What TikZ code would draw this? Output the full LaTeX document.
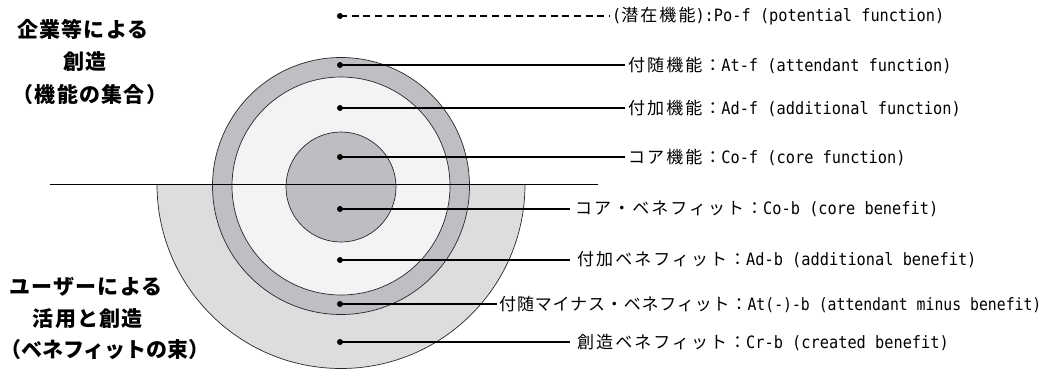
\documentclass[tikz,border=0pt]{standalone}
\usepackage{fontspec}
\setmainfont{Noto Sans CJK JP}
\newfontfamily\jp[LetterSpace=12]{Noto Sans CJK JP}
\newfontfamily\jpt[LetterSpace=5]{Noto Sans CJK JP}
\newfontfamily\jps[LetterSpace=6]{Noto Sans CJK JP}
\newfontfamily\jpss{Noto Sans CJK JP}
\newfontfamily\lat[FakeStretch=0.9]{DejaVu Sans Mono}
\newfontfamily\latt[FakeStretch=0.87]{DejaVu Sans Mono}
\newcommand\JA[1]{{\fontsize{17}{20}\jp #1}}
\newcommand\LA[1]{{\fontsize{17}{20}\lat #1}}
\definecolor{ringgray}{RGB}{190,191,194}
\definecolor{innerw}{RGB}{242,243,245}
\definecolor{coregray}{RGB}{189,190,193}
\definecolor{semigray}{RGB}{220,221,223}
\definecolor{edgecol}{RGB}{40,40,40}
\begin{document}
\begin{tikzpicture}[x=1pt,y=1pt,
  edge/.style={draw=edgecol, line width=0.7pt},
  conn/.style={draw=black, line width=1.5pt},
  dotn/.style={circle, fill=black, inner sep=0pt, minimum size=6pt},
  lbl/.style={anchor=west, inner sep=0pt},
  side/.style={inner sep=0pt, font=\fontsize{21}{24}\jps\bfseries},
  sidetight/.style={inner sep=0pt, font=\fontsize{21}{24}\jpss\bfseries}]
\useasboundingbox (0,0) rectangle (1055,-370);
% created benefit half disc
\fill[semigray] (157,-184.5) arc[start angle=180,end angle=360,radius=184] -- cycle;
\draw[edge] (157,-184.5) arc[start angle=180,end angle=360,radius=184];
% concentric circles
\filldraw[fill=ringgray, edge] (341,-186) circle[radius=128.5];
\filldraw[fill=innerw, edge] (341,-186) circle[radius=109];
\filldraw[fill=coregray, edge] (341,-187) circle[radius=55];
% divider
\draw[draw=black, line width=0.9pt] (50,-184.5) -- (598,-184.5);
% dots
\node[dotn] (d1) at (340,-16) {};
\node[dotn] (d2) at (340,-65) {};
\node[dotn] (d3) at (340,-108) {};
\node[dotn] (d4) at (340,-157) {};
\node[dotn] (d5) at (340,-209) {};
\node[dotn] (d6) at (340,-260) {};
\node[dotn] (d7) at (340,-304) {};
\node[dotn] (d8) at (340,-342) {};
% labels
\node[lbl] (t1) at (612,-16) {\LA{(}\JA{潜在機能}\LA{):Po-f (potential function)}};
\node[lbl] (t2) at (628,-65) {\JA{付随機能：}\LA{At-f (attendant function)}};
\node[lbl] (t3) at (628,-108) {\JA{付加機能：}\LA{Ad-f (additional function)}};
\node[lbl] (t4) at (628,-157) {\JA{コア機能：}\LA{Co-f (core function)}};
\node[lbl] (t5) at (575,-209) {\JA{コア・ベネフィット：}\LA{Co-b (core benefit)}};
\node[lbl] (t6) at (577,-260) {\JA{付加ベネフィット：}\LA{Ad-b (additional benefit)}};
\node[lbl] (t7) at (499,-304) {{\fontsize{17}{20}\jpt 付随マイナス・ベネフィット：}{\fontsize{17}{20}\latt At(-)-b (attendant minus benefit)}};
\node[lbl] (t8) at (577,-342) {\JA{創造ベネフィット：}\LA{Cr-b (created benefit)}};
% connectors
\draw[conn, dash pattern=on 7pt off 4.7pt] (d1.center) -- ([xshift=-2pt]t1.west);
\draw[conn] (d2.center) -- ([xshift=-3pt]t2.west);
\draw[conn] (d3.center) -- ([xshift=-3pt]t3.west);
\draw[conn] (d4.center) -- ([xshift=-3pt]t4.west);
\draw[conn] (d5.center) -- ([xshift=-5pt]t5.west);
\draw[conn] (d6.center) -- ([xshift=-7pt]t6.west);
\draw[conn] (d7.center) -- ([xshift=-2pt]t7.west);
\draw[conn] (d8.center) -- ([xshift=-7pt]t8.west);
% side labels
\node[side] (s1) at (83,-29) {企業等による};
\node[side] (s2) at (85,-62) {創造};
\node[side] (s3) at (90,-95) {（機能の集合）};
\node[side] (s4) at (86,-287) {ユーザーによる};
\node[side] (s5) at (88,-319) {活用と創造};
\node[sidetight] (s6) at (105,-350) {（ベネフィットの束）};
\end{tikzpicture}
\end{document}
